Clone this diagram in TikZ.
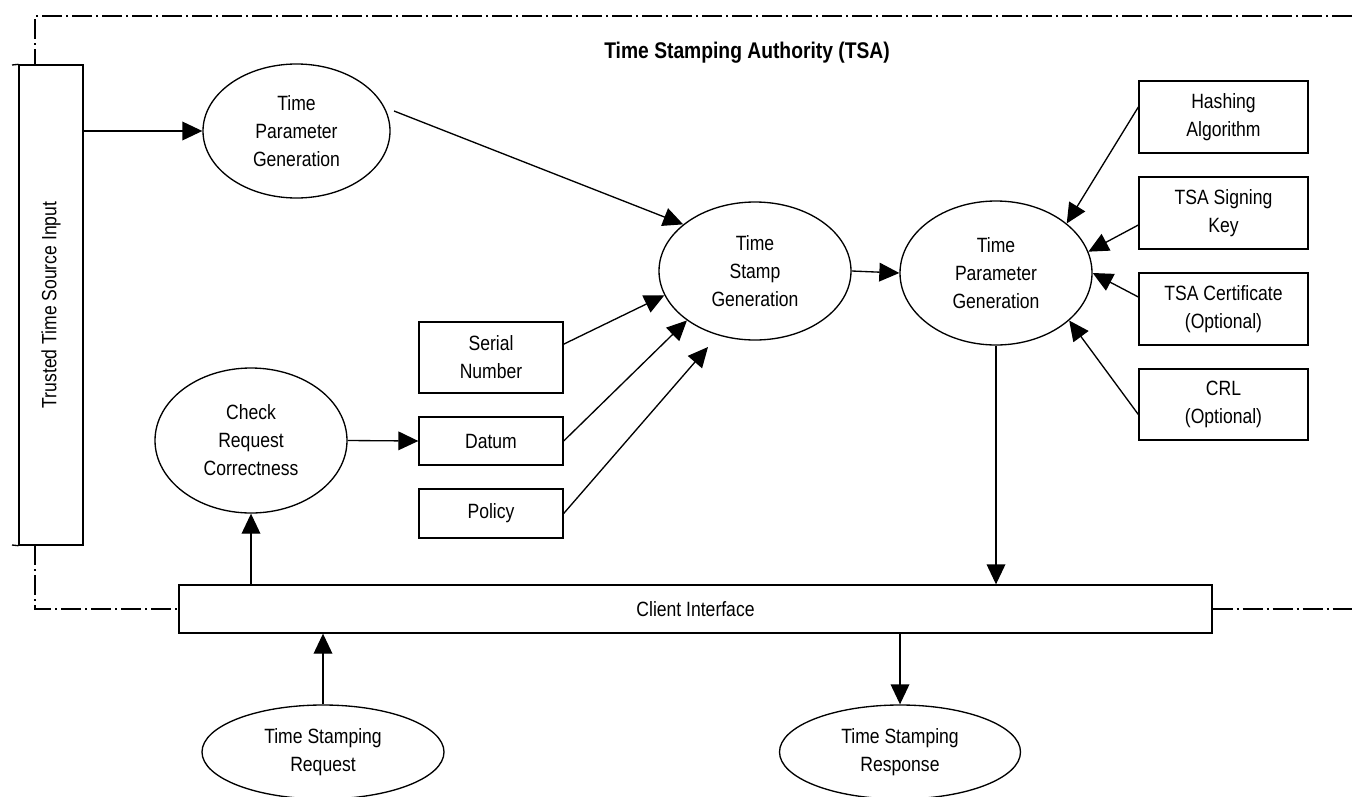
\documentclass[tikz,border=0pt]{standalone}
\usepackage{fontspec}
\setmainfont{Liberation Sans}[FakeStretch=0.85]
\usetikzlibrary{shapes.geometric,arrows.meta}
\begin{document}
\begin{tikzpicture}[x=0.75pt,y=-0.75pt,
  every node/.style={font=\fontsize{15.5pt}{21pt}\selectfont, align=center, inner sep=0pt},
  lw/.style={line width=1pt},
  boxnode/.style={lw, draw, rectangle},
  ellnode/.style={lw, draw, ellipse},
  arr/.style={lw, -{Triangle[length=15pt,width=14pt]}},
  border/.style={lw, dash pattern=on 15pt off 3pt on 1.5pt off 3pt}]
\useasboundingbox (0,0) rectangle (1352,796);

% title
\node (title) at (747,53) {\fontsize{17pt}{20pt}\selectfont\bfseries Time Stamping Authority (TSA)};

% trusted time source
\node[boxnode, minimum width=48pt, minimum height=360pt] (trusted) at (51,305) {\rotatebox{90}{Trusted Time Source Input}};

% ellipses
\node[ellnode, minimum width=140.25pt, minimum height=100.5pt] (e1) at (296.5,131) {Time\\Parameter\\Generation};
\node[ellnode, minimum width=144pt, minimum height=103.5pt] (tsg) at (755,271) {Time\\Stamp\\Generation};
\node[ellnode, minimum width=144pt, minimum height=108pt] (rpg) at (996,273) {Time\\Parameter\\Generation};
\node[ellnode, minimum width=144pt, minimum height=108.75pt] (check) at (251,440.5) {Check\\Request\\Correctness};
\node[ellnode, minimum width=181.5pt, minimum height=70.5pt] (req) at (323,752) {Time Stamping\\Request};
\node[ellnode, minimum width=180.75pt, minimum height=70.5pt] (resp) at (900,752) {Time Stamping\\Response};

% left boxes
\node[boxnode, minimum width=108pt, minimum height=53.25pt] (serial) at (491,357.5) {Serial\\Number};
\node[boxnode, minimum width=108pt, minimum height=36pt] (datum) at (491,441) {Datum};
\node[boxnode, minimum width=108pt, minimum height=36.75pt] (policy) at (491,513.5) {Policy};

% right boxes
\node[boxnode, minimum width=126.75pt, minimum height=54pt] (hash) at (1223.5,117) {Hashing\\Algorithm};
\node[boxnode, minimum width=126.75pt, minimum height=54pt] (key) at (1223.5,213) {TSA Signing\\Key};
\node[boxnode, minimum width=126.75pt, minimum height=54pt] (cert) at (1223.5,309) {TSA Certificate\\(Optional)};
\node[boxnode, minimum width=126.75pt, minimum height=53.25pt] (crl) at (1223.5,404.5) {CRL\\(Optional)};

% client interface
\node[boxnode, minimum width=774.75pt, minimum height=36pt] (client) at (695.5,609) {Client Interface};

% boundary
\coordinate (bt) at (35,65);
\coordinate (bb) at (35,545);
\draw[border] (1352,16) -- (35,16) -- (bt);
\draw[border] (bb) -- (35,609) -- (client.west);
\draw[border] (client.east) -- (1352,609);
\draw[lw] (12,65) -- (trusted.north west);
\draw[lw] (12,545) -- (trusted.south west);

% connectors
\coordinate (ptip) at (708,347);
\draw[arr] (trusted.east |- e1.west) -- (e1.west);
\draw[arr, shorten <=7.5pt] (e1.15) -- (tsg.147);
\draw[arr] ([yshift=10pt]serial.east) -- (tsg.195);
\draw[arr] (datum.east) -- (tsg.216);
\draw[arr] (policy.east) -- (ptip);
\draw[arr] (tsg.east) -- (rpg.west);
\draw[arr] ([yshift=7.5pt]hash.west) -- (rpg.35);
\draw[arr] ([yshift=-9pt]key.west) -- (rpg.13);
\draw[arr] ([yshift=9pt]cert.west) -- (rpg.0);
\draw[arr] ([yshift=-7.5pt]crl.west) -- (rpg.-33);
\draw[arr] (check.east) -- (datum.west);
\draw[arr] (check.south |- client.north) -- (check.south);
\draw[arr] (rpg.south) -- (rpg.south |- client.north);
\draw[arr] (req.north) -- (req.north |- client.south);
\draw[arr] (resp.north |- client.south) -- (resp.north);
\end{tikzpicture}
\end{document}
